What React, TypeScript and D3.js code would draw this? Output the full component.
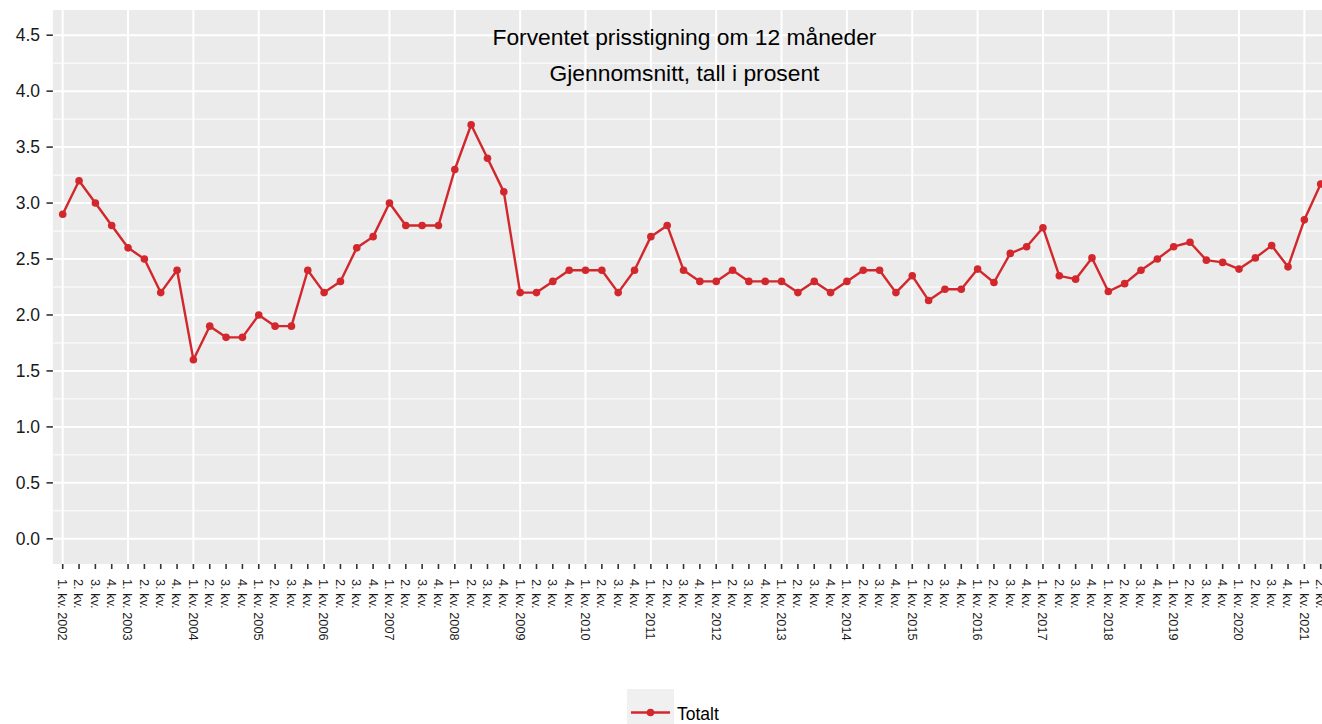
import { scalePoint, scaleLinear, line as d3_line } from "d3";

// Kvartaler 2002Q1 - 2021Q2
const years = [2002, 2003, 2004, 2005, 2006, 2007, 2008, 2009, 2010, 2011, 2012, 2013, 2014, 2015, 2016, 2017, 2018, 2019, 2020, 2021];
const quarterNames = ["1. kv.", "2. kv.", "3. kv.", "4. kv."];

const values = [
  2.9, 3.2, 3.0, 2.8,
  2.6, 2.5, 2.2, 2.4,
  1.6, 1.9, 1.8, 1.8,
  2.0, 1.9, 1.9, 2.4,
  2.2, 2.3, 2.6, 2.7,
  3.0, 2.8, 2.8, 2.8,
  3.3, 3.7, 3.4, 3.1,
  2.2, 2.2, 2.3, 2.4,
  2.4, 2.4, 2.2, 2.4,
  2.7, 2.8, 2.4, 2.3,
  2.3, 2.4, 2.3, 2.3,
  2.3, 2.2, 2.3, 2.2,
  2.3, 2.4, 2.4, 2.2,
  2.35, 2.13, 2.23, 2.23,
  2.41, 2.29, 2.55, 2.61,
  2.78, 2.35, 2.32, 2.51,
  2.21, 2.28, 2.4, 2.5,
  2.61, 2.65, 2.49, 2.47,
  2.41, 2.51, 2.62, 2.43,
  2.85, 3.17,
];

const yTicks = [0, 0.5, 1, 1.5, 2, 2.5, 3, 3.5, 4, 4.5];
const yMinor = [-0.25, 0.25, 0.75, 1.25, 1.75, 2.25, 2.75, 3.25, 3.75, 4.25, 4.75];

const title = ["Forventet prisstigning om 12 måneder", "Gjennomsnitt, tall i prosent"];
const seriesName = "Totalt";

// unike nøkler (2002Q1 ...) og etiketter
const periods: { key: string; label: string }[] = [];
years.forEach((y) =>
  quarterNames.forEach((q, i) => periods.push({ key: `${y}Q${i + 1}`, label: i === 0 ? `${q} ${y}` : q }))
);
const data = values.map((value, i) => ({ ...periods[i], value }));

const W = 1322;
const H = 724;
const panel = { left: 52.9, right: 1330.5, top: 10, bottom: 564 };
const RED = "#d2272c";
const FONT = "'Liberation Sans', Arial, sans-serif";

export default function App() {
  const x = scalePoint<string>()
    .domain(data.map((d) => d.key))
    .range([panel.left, panel.right])
    .padding(0.6);

  const y = scaleLinear()
    .domain([-0.225, 4.725])
    .range([panel.bottom, panel.top]);

  const linePath = d3_line<typeof data[number]>()
    .x((d) => x(d.key)!)
    .y((d) => y(d.value))(data);

  const yearTicks = data.filter((d) => d.key.endsWith("Q1"));

  return (
    <svg width={W} height={H} style={{ position: "absolute", left: 0, top: 0, fontFamily: FONT }}>
      <rect x={0} y={0} width={W} height={H} fill="#fff" />

      {/* panel */}
      <rect x={panel.left} y={panel.top} width={panel.right - panel.left} height={panel.bottom - panel.top} fill="#ebebeb" />

      {/* minor grid */}
      {yMinor.map((v) => (
        <line key={"m" + v} x1={panel.left} x2={panel.right} y1={y(v)} y2={y(v)} stroke="#fff" strokeWidth={1} />
      ))}
      {/* major grid */}
      {yTicks.map((v) => (
        <line key={"y" + v} x1={panel.left} x2={panel.right} y1={y(v)} y2={y(v)} stroke="#fff" strokeWidth={2} />
      ))}
      {yearTicks.map((d) => (
        <line key={"x" + d.key} x1={x(d.key)} x2={x(d.key)} y1={panel.top} y2={panel.bottom} stroke="#fff" strokeWidth={2} />
      ))}

      {/* tittel */}
      {title.map((t, i) => (
        <text key={t} x={684.5} y={45 + i * 36} textAnchor="middle" fontSize={22.8} fill="#000">
          {t}
        </text>
      ))}

      {/* serie */}
      <path d={linePath ?? ""} fill="none" stroke={RED} strokeWidth={2.4} strokeLinejoin="round" />
      {data.map((d) => (
        <circle key={d.key} cx={x(d.key)} cy={y(d.value)} r={3.8} fill={RED} />
      ))}

      {/* y-akse */}
      {yTicks.map((v) => (
        <g key={"yt" + v}>
          <line x1={46.5} x2={panel.left} y1={y(v)} y2={y(v)} stroke="#333" strokeWidth={1.6} />
          <text x={40} y={y(v)} dy="0.36em" textAnchor="end" fontSize={17.5} fill="#1a1a1a">
            {v.toFixed(1)}
          </text>
        </g>
      ))}

      {/* x-akse */}
      {data.map((d) => (
        <g key={"xt" + d.key}>
          <line x1={x(d.key)} x2={x(d.key)} y1={panel.bottom} y2={panel.bottom + 5} stroke="#333" strokeWidth={1.6} />
          <text
            transform={`translate(${x(d.key)},${panel.bottom + 15}) rotate(90)`}
            dy="0.36em"
            fontSize={12.8}
            fill="#1a1a1a"
          >
            {d.label}
          </text>
        </g>
      ))}

      {/* legende */}
      <rect x={627} y={689} width={47} height={40} fill="#f0f0f0" />
      <line x1={631} x2={670} y1={712.5} y2={712.5} stroke={RED} strokeWidth={2.4} />
      <circle cx={650.5} cy={712.5} r={3.8} fill={RED} />
      <text x={677} y={719.5} fontSize={17.5} fill="#000">
        {seriesName}
      </text>
    </svg>
  );
}
